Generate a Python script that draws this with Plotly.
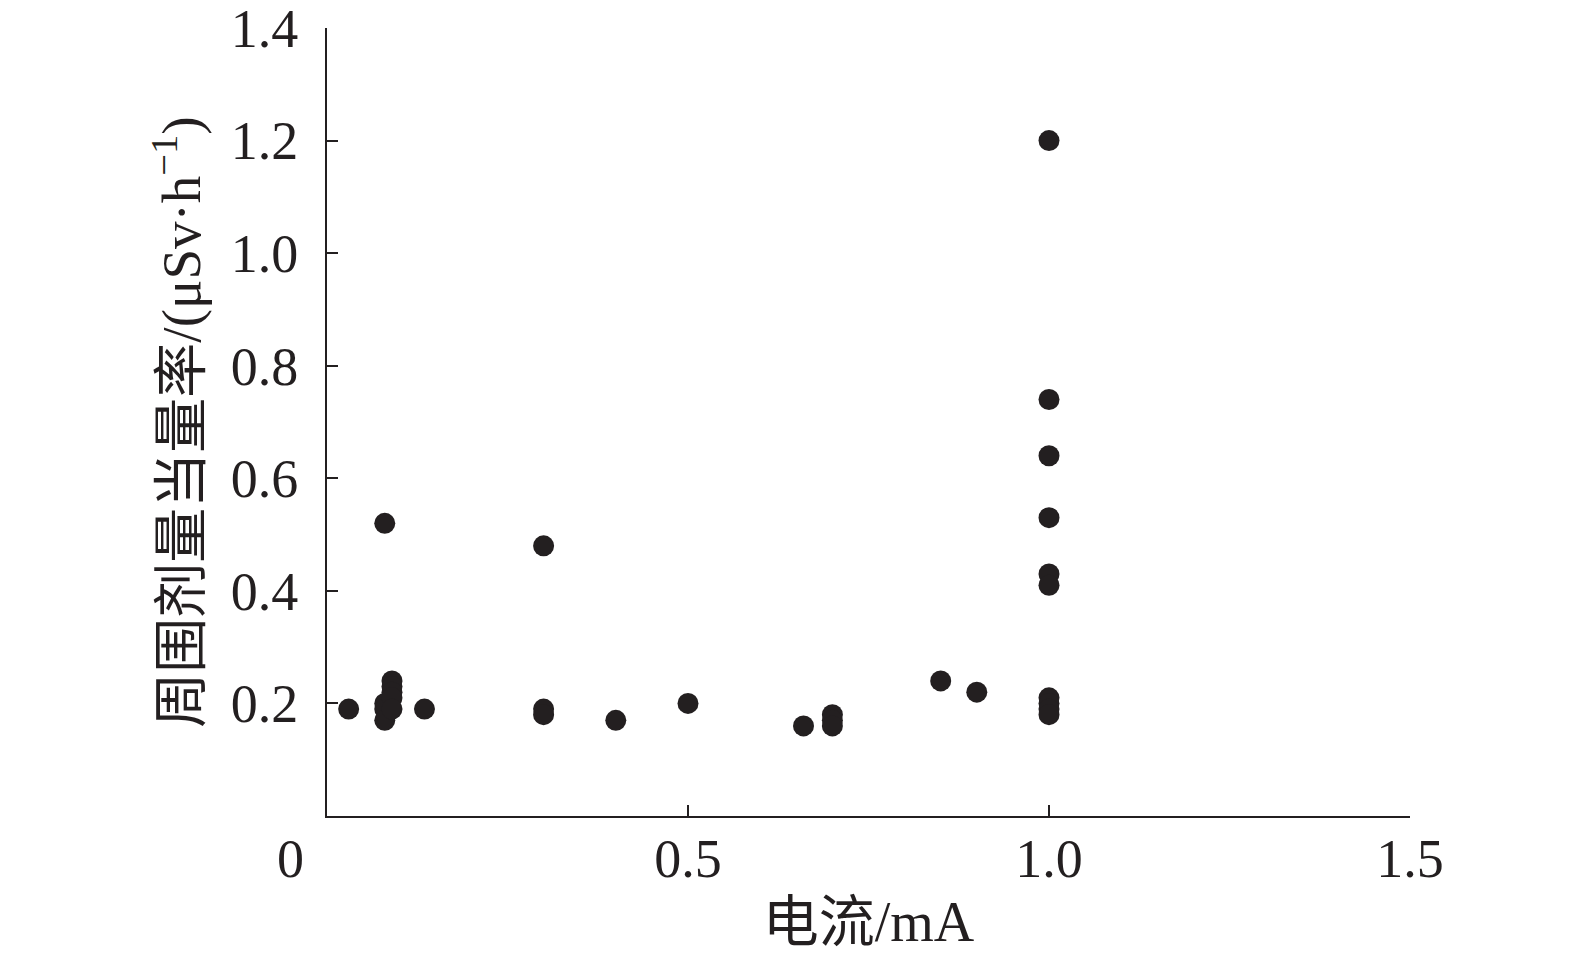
import plotly.graph_objects as go

# current (mA) and ambient dose equivalent rate (uSv/h)
current_ma = [
    0.03,
    0.08, 0.08, 0.08, 0.08,
    0.09, 0.09, 0.09, 0.09, 0.09,
    0.135,
    0.3, 0.3, 0.3,
    0.4,
    0.5,
    0.66,
    0.7, 0.7, 0.7,
    0.85,
    0.9,
    1.0, 1.0, 1.0, 1.0, 1.0, 1.0, 1.0, 1.0, 1.0, 1.0,
]
dose_rate = [
    0.19,
    0.52, 0.20, 0.19, 0.17,
    0.24, 0.23, 0.22, 0.21, 0.19,
    0.19,
    0.48, 0.19, 0.18,
    0.17,
    0.20,
    0.16,
    0.18, 0.17, 0.16,
    0.24,
    0.22,
    1.20, 0.74, 0.64, 0.53, 0.43, 0.41, 0.21, 0.20, 0.19, 0.18,
]

x_tickvals = [0.5, 1.0, 1.5]
x_ticktext = ["0.5", "1.0", "1.5"]
y_tickvals = [0.2, 0.4, 0.6, 0.8, 1.0, 1.2, 1.4]
y_ticktext = ["0.2", "0.4", "0.6", "0.8", "1.0", "1.2", "1.4"]

FONT = "Liberation Serif, Times New Roman, Noto Sans CJK SC, serif"
INK = "#231f20"

fig = go.Figure()
fig.add_trace(
    go.Scatter(
        x=current_ma,
        y=dose_rate,
        mode="markers",
        marker=dict(color=INK, size=21, line=dict(width=0)),
        cliponaxis=False,
    )
)

axis_common = dict(
    showgrid=False,
    zeroline=False,
    showline=True,
    linecolor=INK,
    linewidth=2,
    ticks="inside",
    ticklen=11,
    tickwidth=2,
    tickcolor=INK,
    automargin=False,
    ticklabeloverflow="allow",
    tickfont=dict(family=FONT, size=54, color=INK),
)

fig.update_xaxes(
    range=[0, 1.5],
    tickvals=x_tickvals,
    ticktext=x_ticktext,
    ticklabelstandoff=-6,
    title=dict(text="电流/mA", font=dict(family=FONT, size=56, color=INK), standoff=14),
    **axis_common,
)
fig.update_yaxes(
    range=[0, 1.4],
    tickvals=y_tickvals,
    ticktext=y_ticktext,
    ticklabelstandoff=16,
    title=dict(
        text="周围剂量当量率/(μSv·h<sup>−1</sup>)",
        font=dict(family=FONT, size=55, color=INK),
        standoff=12,
    ),
    **axis_common,
)

# shared origin label
fig.add_annotation(
    x=0, y=0, xref="x", yref="y", text="0", showarrow=False,
    xshift=-37, yshift=-43, font=dict(family=FONT, size=54, color=INK),
)

fig.update_layout(
    width=1575,
    height=959,
    showlegend=False,
    plot_bgcolor="white",
    paper_bgcolor="white",
    margin=dict(l=319, r=173, t=20, b=151),
)

fig.write_html("out.html")
